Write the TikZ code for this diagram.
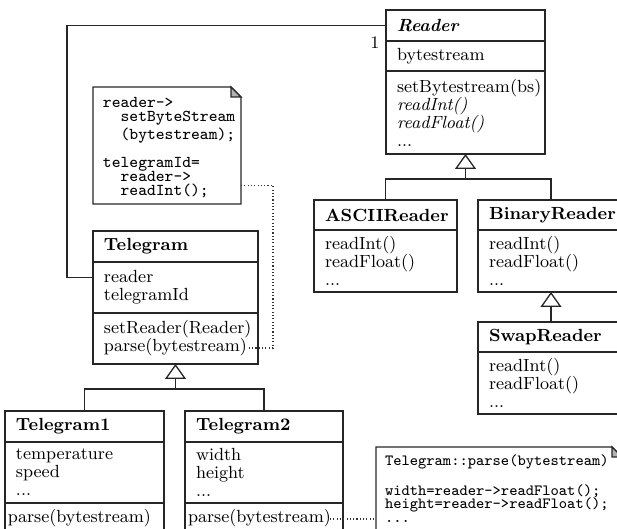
\documentclass[tikz,border=0pt]{standalone}
\usetikzlibrary{arrows.meta,calc}
\hyphenpenalty=10000
\exhyphenpenalty=10000
\begin{document}
\begin{tikzpicture}[x=0.5pt, y=-0.5pt,
  umlline/.style={draw=black!85, line width=0.65pt},
  part/.style={umlline, anchor=north west, outer sep=0pt, inner xsep=5.5pt,
    inner ysep=0pt, align=left, font=\fontsize{8.8}{9}\selectfont},
  notetext/.style={anchor=north west, outer sep=0pt, align=left},
  dogear/.style={umlline, fill=black!30},
  notelink/.style={draw=black!80, line width=0.55pt, dash pattern=on 0.55pt off 1.1pt},
  inherit/.style={umlline, -{Triangle[open, length=7.5pt, width=10.5pt]}},
]
\useasboundingbox (0,0) rectangle (617,529);
\clip (0,0) rectangle (617,529);

% class Reader
\node[part, text width=68.5pt, minimum height=15.5pt] (rd-t) at (386,10) {\textbf{\textit{Reader}}};
\node[part, text width=68.5pt, minimum height=15pt] (rd-a) at (rd-t.south west) {bytestream};
\node[part, text width=68.5pt, minimum height=41.5pt] (rd-m) at (rd-a.south west)
  {setBytestream(bs)\\\textit{readInt()}\\\textit{readFloat()}\\...};

% subclasses of Reader
\node[part, text width=60.5pt, minimum height=15pt] (asc-t) at (314,200) {\textbf{ASCIIReader}};
\node[part, text width=60.5pt, minimum height=31pt] (asc-m) at (asc-t.south west)
  {readInt()\\readFloat()\\...};
\node[part, text width=62pt, minimum height=15pt] (bin-t) at (478,200) {\textbf{BinaryReader}};
\node[part, text width=62pt, minimum height=31pt] (bin-m) at (bin-t.south west)
  {readInt()\\readFloat()\\...};
\node[part, text width=62pt, minimum height=15pt] (swp-t) at (478,322) {\textbf{SwapReader}};
\node[part, text width=62pt, minimum height=31pt] (swp-m) at (swp-t.south west)
  {readInt()\\readFloat()\\...};

% class Telegram
\node[part, text width=71.5pt, minimum height=15.5pt] (tg-t) at (93,231) {\textbf{Telegram}};
\node[part, text width=71.5pt, minimum height=25.5pt] (tg-a) at (tg-t.south west) {reader\\telegramId};
\node[part, text width=71.5pt, minimum height=25.5pt] (tg-m) at (tg-a.south west)
  {setReader(Reader)\\parse(bytestream)};

% subclasses of Telegram
\node[part, text width=68.5pt, minimum height=15.5pt] (tg1-t) at (5,411) {\textbf{Telegram1}};
\node[part, text width=68.5pt, minimum height=30.5pt] (tg1-a) at (tg1-t.south west) {temperature\\speed\\...};
\node[part, text width=76.5pt, inner xsep=1.5pt, minimum height=15.5pt] (tg1-m) at (tg1-a.south west) {parse(bytestream)};
\node[part, text width=68pt, minimum height=15.5pt] (tg2-t) at (185,411) {\textbf{Telegram2}};
\node[part, text width=68pt, minimum height=30.5pt] (tg2-a) at (tg2-t.south west) {width\\height\\...};
\node[part, text width=76pt, inner xsep=1.5pt, minimum height=15.5pt] (tg2-m) at (tg2-a.south west) {parse(bytestream)};

% notes
\node[notetext, font=\ttfamily\fontsize{8.3}{7}\selectfont, text width=64pt, inner xsep=5pt,
  inner ysep=0pt, text height=10.5pt, text depth=48pt] (nt1) at (93,87)
  {reader->\\\hphantom{xx}setByteStream\\\hphantom{xx}(bytestream);\\[7pt]telegramId=\\\hphantom{xx}reader->\\\hphantom{xx}readInt();};
\draw[umlline] (nt1.north west) -- ($(nt1.north east)+(-10,0)$) -- ($(nt1.north east)+(0,10)$)
  -- (nt1.south east) -- (nt1.south west) -- cycle;
\draw[dogear] ($(nt1.north east)+(-10,0)$) -- ($(nt1.north east)+(-10,10)$) -- ($(nt1.north east)+(0,10)$) -- cycle;

\node[notetext, font=\ttfamily\fontsize{7.8}{6.8}\selectfont, text width=114pt, inner xsep=4.5pt,
  inner ysep=3.6pt] (nt2) at (376,447)
  {Telegram::parse(bytestream)\\[6.8pt]width=reader->readFloat();\\height=reader->readFloat();\\...};
\draw[umlline] (nt2.north west) -- ($(nt2.north east)+(-10,0)$) -- ($(nt2.north east)+(0,10)$)
  -- ($(nt2.south east)+(0,20)$) -- ($(nt2.south west)+(0,20)$) -- cycle;
\draw[dogear] ($(nt2.north east)+(-10,0)$) -- ($(nt2.north east)+(-10,10)$) -- ($(nt2.north east)+(0,10)$) -- cycle;

% association Telegram -> Reader
\coordinate (tg-reader) at ($(tg-a.north west)!0.3!(tg-a.south west)$);
\draw[umlline] (tg-reader) -- ++(-26,0) |- (rd-t.west);
\node[font=\fontsize{8.8}{9}\selectfont] (mult) at (375,43) {1};

% generalisations
\coordinate (r-bus) at ($(rd-m.south)+(0,25)$);
\draw[umlline] (asc-t.north) |- (r-bus) -| (bin-t.north);
\draw[inherit] (r-bus) -- (rd-m.south);
\draw[inherit] (swp-t.north) -- (bin-m.south);

\coordinate (t-bus) at ($(tg-m.south)+(0,25)$);
\draw[umlline] (tg1-t.north) |- (t-bus) -| (tg2-t.north);
\draw[inherit] (t-bus) -- (tg-m.south);

% note links
\coordinate (nt1-link) at ($(nt1.north east)!0.84!(nt1.south east)$);
\coordinate (tg-parse-end) at (247,348);
\draw[notelink] (nt1-link) -- ++(32,0) |- (tg-parse-end);
\coordinate (tg2-parse-end) at (330,519);
\draw[notelink] (tg2-parse-end) -- (nt2.west |- tg2-parse-end);
\end{tikzpicture}
\end{document}
